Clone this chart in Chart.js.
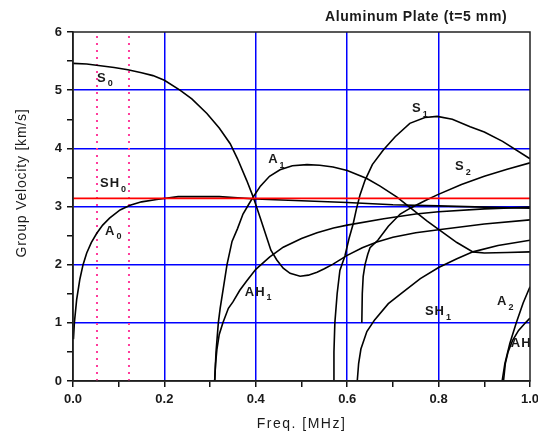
<!DOCTYPE html>
<html>
<head>
<meta charset="utf-8">
<title>Aluminum Plate group velocity</title>
<script src="https://cdn.jsdelivr.net/npm/chart.js@4.4.1/dist/chart.umd.min.js"></script>
<style>
  html, body { margin: 0; padding: 0; background: #fff; }
</style>
</head>
<body>
<canvas id="chart" width="538" height="436"></canvas>
<script>
// Group velocity curves (freq in MHz, velocity in km/s)
const s0Freq = [0, 0.03, 0.06, 0.09, 0.12, 0.15, 0.175, 0.2, 0.234, 0.26, 0.293, 0.32, 0.344, 0.36, 0.38, 0.394, 0.41, 0.433, 0.446, 0.46, 0.475, 0.497, 0.515, 0.534, 0.55, 0.569, 0.6, 0.633, 0.665, 0.7, 0.75, 0.8, 0.9, 1.0];
const s0Vel = [5.46, 5.45, 5.42, 5.39, 5.35, 5.3, 5.25, 5.17, 5.0, 4.85, 4.6, 4.35, 4.08, 3.82, 3.45, 3.17, 2.8, 2.25, 2.08, 1.94, 1.85, 1.8, 1.82, 1.87, 1.93, 2.01, 2.16, 2.29, 2.39, 2.47, 2.55, 2.6, 2.7, 2.77];

const a0Freq = [0.001, 0.003, 0.008, 0.015, 0.022, 0.03, 0.04, 0.052, 0.065, 0.08, 0.103, 0.125, 0.15, 0.183, 0.23, 0.32, 0.4, 0.5, 0.6, 0.7, 0.8, 0.9, 1.0];
const a0Vel = [0.72, 1.0, 1.4, 1.75, 2.0, 2.2, 2.38, 2.54, 2.68, 2.8, 2.94, 3.02, 3.08, 3.12, 3.17, 3.17, 3.13, 3.1, 3.07, 3.03, 3.01, 2.99, 2.97];

const a1Freq = [0.31, 0.313, 0.318, 0.322, 0.33, 0.337, 0.348, 0.36, 0.372, 0.384, 0.394, 0.41, 0.43, 0.453, 0.48, 0.512, 0.54, 0.569, 0.6, 0.643, 0.672, 0.709, 0.744, 0.775, 0.803, 0.84, 0.875, 0.9, 0.95, 1.0];
const a1Vel = [0, 0.5, 1.0, 1.25, 1.65, 2.0, 2.4, 2.62, 2.87, 3.03, 3.16, 3.35, 3.52, 3.63, 3.7, 3.72, 3.71, 3.68, 3.62, 3.48, 3.35, 3.16, 2.94, 2.75, 2.59, 2.38, 2.22, 2.2, 2.21, 2.22];

const sh1Freq = [0.31, 0.312, 0.315, 0.32, 0.328, 0.34, 0.35, 0.365, 0.38, 0.4, 0.43, 0.46, 0.5, 0.534, 0.57, 0.6, 0.68, 0.75, 0.8, 0.9, 1.0];
const sh1Vel = [0, 0.3, 0.55, 0.8, 1.0, 1.25, 1.36, 1.56, 1.72, 1.92, 2.13, 2.3, 2.45, 2.55, 2.63, 2.68, 2.79, 2.87, 2.91, 2.96, 2.99];

const s1Freq = [0.569, 0.571, 0.573, 0.578, 0.584, 0.595, 0.604, 0.613, 0.62, 0.628, 0.639, 0.655, 0.679, 0.705, 0.737, 0.77, 0.797, 0.83, 0.869, 0.9, 0.94, 1.0];
const s1Vel = [0, 0.5, 1.0, 1.5, 1.9, 2.15, 2.45, 2.7, 2.95, 3.2, 3.45, 3.72, 3.97, 4.2, 4.43, 4.53, 4.55, 4.5, 4.37, 4.28, 4.12, 3.82];

const s2Freq = [0.632, 0.633, 0.635, 0.639, 0.645, 0.65, 0.667, 0.69, 0.716, 0.74, 0.77, 0.797, 0.85, 0.9, 0.95, 1.0];
const s2Vel = [1.0, 1.5, 1.8, 2.0, 2.18, 2.29, 2.42, 2.66, 2.87, 2.98, 3.1, 3.2, 3.38, 3.52, 3.64, 3.75];

const sh2Freq = [0.622, 0.625, 0.63, 0.643, 0.66, 0.69, 0.722, 0.76, 0.8, 0.84, 0.875, 0.93, 1.0];
const sh2Vel = [0, 0.3, 0.55, 0.85, 1.05, 1.33, 1.53, 1.76, 1.95, 2.1, 2.22, 2.33, 2.42];

const a2Freq = [0.939, 0.945, 0.956, 0.97, 0.985, 1.0];
const a2Vel = [0, 0.3, 0.65, 1.0, 1.34, 1.62];

const ahFreq = [0.942, 0.946, 0.952, 0.962, 0.975, 0.99, 1.0];
const ahVel = [0, 0.3, 0.5, 0.7, 0.87, 1.0, 1.08];

// SH0 (red) and the two dotted frequency markers
const sh0Freq = [0, 1];
const sh0Vel = [3.14, 3.14];
const markerFreq = [0.0525, 0.1225];
const markerVel = [0, 6];

// Mode labels: name, subscript and where they sit (freq, velocity)
const labelNames = ['S', 'SH', 'A', 'A', 'S', 'S', 'AH', 'SH', 'A', 'AH'];
const labelSubs = ['0', '0', '0', '1', '1', '2', '1', '1', '2', ''];
const labelFreq = [0.0525, 0.059, 0.07, 0.427, 0.742, 0.836, 0.376, 0.77, 0.928, 0.958];
const labelVel = [5.21, 3.4, 2.58, 3.81, 4.69, 3.69, 1.53, 1.2, 1.37, 0.64];

// Axis ticks
const xTickValues = [0, 0.1, 0.2, 0.3, 0.4, 0.5, 0.6, 0.7, 0.8, 0.9, 1.0];
const xTickLabels = ['0.0', '', '0.2', '', '0.4', '', '0.6', '', '0.8', '', '1.0'];
const yTickValues = [0, 0.5, 1, 1.5, 2, 2.5, 3, 3.5, 4, 4.5, 5, 5.5, 6];
const yTickLabels = ['0', '', '1', '', '2', '', '3', '', '4', '', '5', '', '6'];

const chartTitle = 'Aluminum Plate (t=5 mm)';
const xTitle = 'Freq. [MHz]';
const yTitle = 'Group Velocity [km/s]';

const FONT = '"Liberation Sans", Arial, sans-serif';

function toPoints(xs, ys) {
  return xs.map((x, i) => ({ x: x, y: ys[i] }));
}

function curve(xs, ys, color, width) {
  return {
    data: toPoints(xs, ys),
    borderColor: color,
    borderWidth: width,
    showLine: true,
    pointRadius: 0,
    tension: 0
  };
}

const datasets = [
  curve(sh0Freq, sh0Vel, '#ff0000', 1.8),
  curve(s0Freq, s0Vel, '#000', 1.6),
  curve(a0Freq, a0Vel, '#000', 1.6),
  curve(a1Freq, a1Vel, '#000', 1.6),
  curve(sh1Freq, sh1Vel, '#000', 1.6),
  curve(s1Freq, s1Vel, '#000', 1.6),
  curve(s2Freq, s2Vel, '#000', 1.6),
  curve(sh2Freq, sh2Vel, '#000', 1.6),
  curve(a2Freq, a2Vel, '#000', 1.6),
  curve(ahFreq, ahVel, '#000', 1.6)
];

for (const f of markerFreq) {
  const ds = curve([f, f], markerVel, '#ff3c9c', 2);
  ds.borderDash = [2, 5];
  datasets.push(ds);
}

function gridColor(labels, ctx) {
  const i = ctx.index;
  if (i === 0 || i === labels.length - 1) return 'rgba(0,0,0,0)';
  return labels[i] !== '' ? '#0000ff' : 'rgba(0,0,0,0)';
}

// Frame, title, axis titles and mode labels
const decorPlugin = {
  id: 'decor',
  afterDraw(chart) {
    const ctx = chart.ctx;
    const area = chart.chartArea;
    const xs = chart.scales.x;
    const ys = chart.scales.y;
    ctx.save();

    ctx.strokeStyle = '#222';
    ctx.lineWidth = 1.5;
    ctx.strokeRect(area.left, area.top, area.right - area.left, area.bottom - area.top);

    ctx.fillStyle = '#1a1a1a';
    ctx.textBaseline = 'middle';
    ctx.textAlign = 'left';
    for (let i = 0; i < labelNames.length; i++) {
      const px = xs.getPixelForValue(labelFreq[i]);
      const py = ys.getPixelForValue(labelVel[i]);
      ctx.font = 'bold 13px ' + FONT;
      ctx.letterSpacing = '1px';
      ctx.fillText(labelNames[i], px, py);
      const w = ctx.measureText(labelNames[i]).width;
      ctx.font = 'bold 9px ' + FONT;
      ctx.letterSpacing = '0px';
      ctx.fillText(labelSubs[i], px + w + 1, py + 6);
    }

    ctx.font = 'bold 14px ' + FONT;
    ctx.letterSpacing = '0.6px';
    ctx.fillText(chartTitle, 325, 17);

    ctx.textAlign = 'center';
    ctx.font = '14px ' + FONT;
    ctx.letterSpacing = '1.5px';
    ctx.fillText(xTitle, (area.left + area.right) / 2, 424);

    ctx.translate(22, 183);
    ctx.rotate(-Math.PI / 2);
    ctx.letterSpacing = '0.8px';
    ctx.fillText(yTitle, 0, 0);
    ctx.restore();
  }
};

new Chart(document.getElementById('chart').getContext('2d'), {
  type: 'scatter',
  data: { datasets: datasets },
  options: {
    responsive: false,
    animation: false,
    layout: { padding: { top: 32, right: 8, bottom: 0, left: 0 } },
    plugins: {
      legend: { display: false },
      tooltip: { enabled: false },
      title: { display: false }
    },
    scales: {
      x: {
        type: 'linear',
        min: 0,
        max: 1,
        afterFit(scale) {
          scale.height = 55;
          scale.paddingLeft = 0;
          scale.paddingRight = 0;
        },
        afterBuildTicks(scale) { scale.ticks = xTickValues.map(v => ({ value: v })); },
        ticks: {
          autoSkip: false,
          maxRotation: 0,
          padding: 5,
          color: '#1a1a1a',
          font: { family: FONT, size: 13, weight: 'bold' },
          callback: (value, index) => xTickLabels[index]
        },
        grid: {
          color: ctx => gridColor(xTickLabels, ctx),
          lineWidth: 1.5,
          tickLength: 6,
          tickColor: '#111',
          tickWidth: 1.5
        },
        border: { color: '#111', width: 1.5 }
      },
      y: {
        type: 'linear',
        min: 0,
        max: 6,
        afterFit(scale) {
          scale.width = 73;
          scale.paddingTop = 0;
          scale.paddingBottom = 0;
        },
        afterBuildTicks(scale) { scale.ticks = yTickValues.map(v => ({ value: v })); },
        ticks: {
          autoSkip: false,
          padding: 5,
          color: '#1a1a1a',
          font: { family: FONT, size: 13, weight: 'bold' },
          callback: (value, index) => yTickLabels[index]
        },
        grid: {
          color: ctx => gridColor(yTickLabels, ctx),
          lineWidth: 1.5,
          tickLength: 6,
          tickColor: '#111',
          tickWidth: 1.5
        },
        border: { color: '#111', width: 1.5 }
      }
    }
  },
  plugins: [decorPlugin]
});
</script>
</body>
</html>
